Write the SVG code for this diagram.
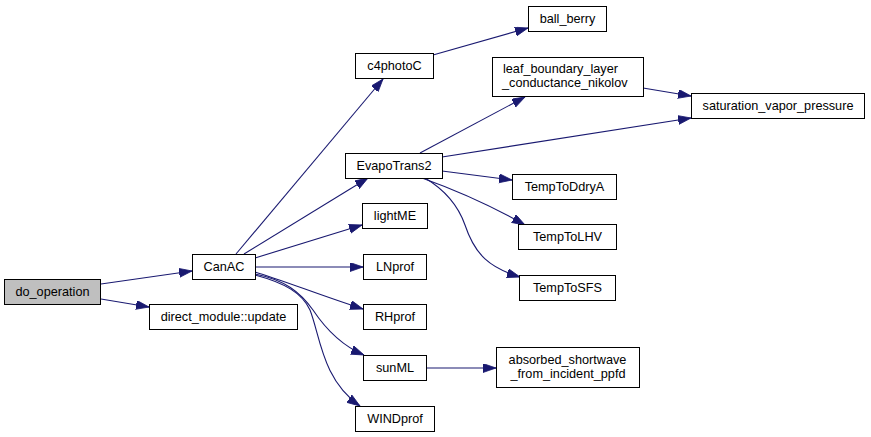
<svg xmlns="http://www.w3.org/2000/svg" width="871" height="437" viewBox="0 0 871 437">
<style>
.node rect{fill:#ffffff;stroke:#000000;stroke-width:1}
.node text{font-family:"Liberation Sans",Arial,Helvetica,sans-serif;font-size:12.7px;fill:#000000;text-anchor:middle}
.node text.l{text-anchor:start}
#n_do_operation rect{fill:#bfbfbf}
.edges path{fill:none;stroke:#191970;stroke-width:1.1}
</style>
<defs>
<marker id="arr" markerUnits="userSpaceOnUse" markerWidth="14" markerHeight="10" refX="13" refY="4.5" orient="auto">
<path d="M0,0 L13,4.5 L0,9 Z" fill="#191970" stroke="#191970" stroke-width="0.8"/>
</marker>
</defs>
<rect width="871" height="437" fill="#ffffff"/>
<g class="edges">
<path marker-end="url(#arr)" d="M101,284 L192,271"/>
<path marker-end="url(#arr)" d="M101,299 L149,307"/>
<path marker-end="url(#arr)" d="M236,254 L383,79"/>
<path marker-end="url(#arr)" d="M244,254 L368,178"/>
<path marker-end="url(#arr)" d="M255,258 L362,225"/>
<path marker-end="url(#arr)" d="M255,267 L363,267"/>
<path marker-end="url(#arr)" d="M255,272 C282,280 322,296 363,309"/>
<path marker-end="url(#arr)" d="M255,274 C285,280 300,292 313,310 C325,328 340,345 364,355"/>
<path marker-end="url(#arr)" d="M255,275 C285,283 302,293 310,310 C320,335 322,380 360,406"/>
<path marker-end="url(#arr)" d="M433,55 L528,28"/>
<path marker-end="url(#arr)" d="M420,153 L525,97"/>
<path marker-end="url(#arr)" d="M442,157 L691,118"/>
<path marker-end="url(#arr)" d="M442,171 L512,180"/>
<path marker-end="url(#arr)" d="M422,178 C450,188 490,205 525,225"/>
<path marker-end="url(#arr)" d="M425,178 C445,190 458,205 465,225 C475,255 490,268 520,277"/>
<path marker-end="url(#arr)" d="M643,88 L691,96"/>
<path marker-end="url(#arr)" d="M426,368 L496,368"/>
</g>
<g id="n_do_operation" class="node"><rect x="4.5" y="279.5" width="96" height="25"/><text x="52.5" y="296">do_operation</text></g>
<g id="n_CanAC" class="node"><rect x="192.5" y="254.5" width="63" height="25"/><text x="224" y="271">CanAC</text></g>
<g id="n_direct_module_update" class="node"><rect x="149.5" y="304.5" width="148" height="25"/><text x="223.5" y="321">direct_module::update</text></g>
<g id="n_c4photoC" class="node"><rect x="355.5" y="53.5" width="78" height="25"/><text x="394.5" y="70">c4photoC</text></g>
<g id="n_ball_berry" class="node"><rect x="528.5" y="6.5" width="78" height="25"/><text x="567.5" y="23">ball_berry</text></g>
<g id="n_leaf_boundary" class="node"><rect x="492.5" y="57.5" width="151" height="39"/><text class="l" x="503" y="73">leaf_boundary_layer</text><text class="l" x="502" y="87">_conductance_nikolov</text></g>
<g id="n_saturation_vapor_pressure" class="node"><rect x="691.5" y="93.5" width="173" height="25"/><text x="778" y="110">saturation_vapor_pressure</text></g>
<g id="n_EvapoTrans2" class="node"><rect x="345.5" y="153.5" width="97" height="25"/><text x="394" y="170">EvapoTrans2</text></g>
<g id="n_TempToDdryA" class="node"><rect x="512.5" y="174.5" width="104" height="25"/><text x="564.5" y="191">TempToDdryA</text></g>
<g id="n_lightME" class="node"><rect x="362.5" y="203.5" width="65" height="25"/><text x="395" y="220">lightME</text></g>
<g id="n_TempToLHV" class="node"><rect x="518.5" y="224.5" width="98" height="25"/><text x="567.5" y="241">TempToLHV</text></g>
<g id="n_LNprof" class="node"><rect x="363.5" y="254.5" width="63" height="25"/><text x="395" y="271">LNprof</text></g>
<g id="n_TempToSFS" class="node"><rect x="519.5" y="275.5" width="96" height="25"/><text x="567.5" y="292">TempToSFS</text></g>
<g id="n_RHprof" class="node"><rect x="363.5" y="304.5" width="63" height="25"/><text x="395" y="321">RHprof</text></g>
<g id="n_sunML" class="node"><rect x="363.5" y="355.5" width="63" height="25"/><text x="395" y="372">sunML</text></g>
<g id="n_absorbed" class="node"><rect x="496.5" y="347.5" width="143" height="40"/><text x="567.5" y="364">absorbed_shortwave</text><text x="568" y="378">_from_incident_ppfd</text></g>
<g id="n_WINDprof" class="node"><rect x="355.5" y="406.5" width="79" height="25"/><text x="395" y="423">WINDprof</text></g>
</svg>
